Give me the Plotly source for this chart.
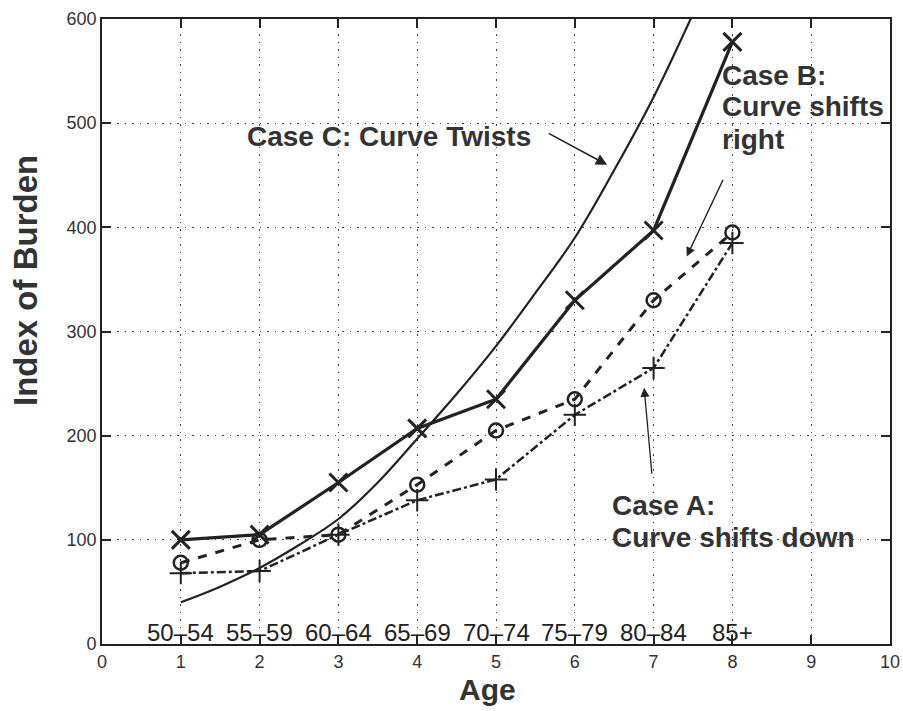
import plotly.graph_objects as go

age_pos = [1, 2, 3, 4, 5, 6, 7, 8]
age_labels = ["50–54", "55–59", "60–64", "65–69", "70–74", "75–79", "80–84", "85+"]

case_b = [100, 105, 155, 207, 235, 330, 397, 578]     # solid, x markers
case_base = [78, 100, 105, 153, 205, 235, 330, 395]   # dashed, circles
case_a = [68, 70, 105, 138, 158, 220, 265, 385]       # dash-dot, plus

curve_c_x = [1, 1.5, 2, 2.5, 3, 3.5, 4, 4.5, 5, 5.5, 6, 6.5, 7, 7.5]
curve_c_y = [40, 55, 73, 95, 120, 155, 197, 240, 286, 337, 390, 455, 525, 605]

ink = "#222222"
txt = "#333333"
FONT = "Liberation Sans, Arial, sans-serif"

fig = go.Figure()

fig.add_trace(go.Scatter(
    x=curve_c_x, y=curve_c_y, mode="lines", line=dict(color=ink, width=2.2, shape="spline"),
    showlegend=False, hoverinfo="skip"))

fig.add_trace(go.Scatter(
    x=age_pos, y=case_a, mode="lines+markers",
    line=dict(color=ink, width=2.5, dash="dashdot"),
    marker=dict(symbol="cross-thin-open", size=16, line=dict(color=ink, width=2)),
    showlegend=False))

fig.add_trace(go.Scatter(
    x=age_pos, y=case_base, mode="lines+markers",
    line=dict(color=ink, width=3, dash="dash"),
    marker=dict(symbol="circle-open", size=14, line=dict(color=ink, width=2.5)),
    showlegend=False))

fig.add_trace(go.Scatter(
    x=age_pos, y=case_b, mode="lines+markers",
    line=dict(color=ink, width=3.2),
    marker=dict(symbol="x-thin-open", size=18, line=dict(color=ink, width=3)),
    showlegend=False))

annotations = []
for p, lab in zip(age_pos, age_labels):
    annotations.append(dict(x=p, y=0, xref="x", yref="y", text=lab, showarrow=False,
                            xanchor="center", yanchor="bottom", yshift=-4,
                            font=dict(family=FONT, size=24, color="#222222")))

def label(x, y, t, size=28):
    return dict(x=x, y=y, xref="x", yref="y", text="<b>%s</b>" % t, showarrow=False,
                xanchor="left", yanchor="middle", font=dict(family=FONT, size=size, color=txt))

annotations += [
    label(1.815, 487, "Case C: Curve Twists"),
    label(7.84, 546, "Case B:"),
    label(7.84, 516, "Curve shifts"),
    label(7.84, 484, "right"),
    label(6.45, 133, "Case A:"),
    label(6.45, 102, "Curve shifts down"),
    # arrows
    dict(x=6.41, y=460, ax=5.65, ay=491, xref="x", yref="y", axref="x", ayref="y", text="",
         showarrow=True, arrowhead=2, arrowsize=1.4, arrowwidth=1.6, arrowcolor=ink),
    dict(x=7.42, y=372, ax=7.89, ay=447, xref="x", yref="y", axref="x", ayref="y", text="",
         showarrow=True, arrowhead=2, arrowsize=1.4, arrowwidth=1.3, arrowcolor=ink),
    dict(x=6.88, y=246, ax=6.98, ay=162, xref="x", yref="y", axref="x", ayref="y", text="",
         showarrow=True, arrowhead=2, arrowsize=1.4, arrowwidth=1.3, arrowcolor=ink),
    # axis titles
    dict(x=-0.098, y=0.582, xref="paper", yref="paper", text="<b>Index of Burden</b>",
         textangle=-90, showarrow=False, xanchor="center", yanchor="middle",
         font=dict(family=FONT, size=33, color=txt)),
    dict(x=0.489, y=-0.0736, xref="paper", yref="paper", text="<b>Age</b>",
         showarrow=False, xanchor="center", yanchor="middle",
         font=dict(family=FONT, size=30, color=txt)),
]

axis_common = dict(showline=True, linecolor=ink, linewidth=1.8, mirror="allticks",
                   ticks="inside", ticklen=9, tickcolor=ink, tickwidth=1.5,
                   showgrid=True, gridcolor="#444444", gridwidth=1.2, griddash="1.5px,6px",
                   zeroline=False, automargin=False,
                   tickfont=dict(family=FONT, size=18, color=txt))

fig.update_layout(
    width=903, height=711,
    margin=dict(l=102, r=13, t=19, b=67),
    paper_bgcolor="white", plot_bgcolor="white",
    xaxis=dict(range=[0, 10], tickmode="array", tickvals=list(range(0, 11)), **axis_common),
    yaxis=dict(range=[0, 600], tickmode="array", tickvals=list(range(0, 601, 100)), **axis_common),
    annotations=annotations,
)

fig.write_html("out.html", config={"displayModeBar": False},
               post_script="document.body.style.margin='0px';document.body.style.padding='0px';")
